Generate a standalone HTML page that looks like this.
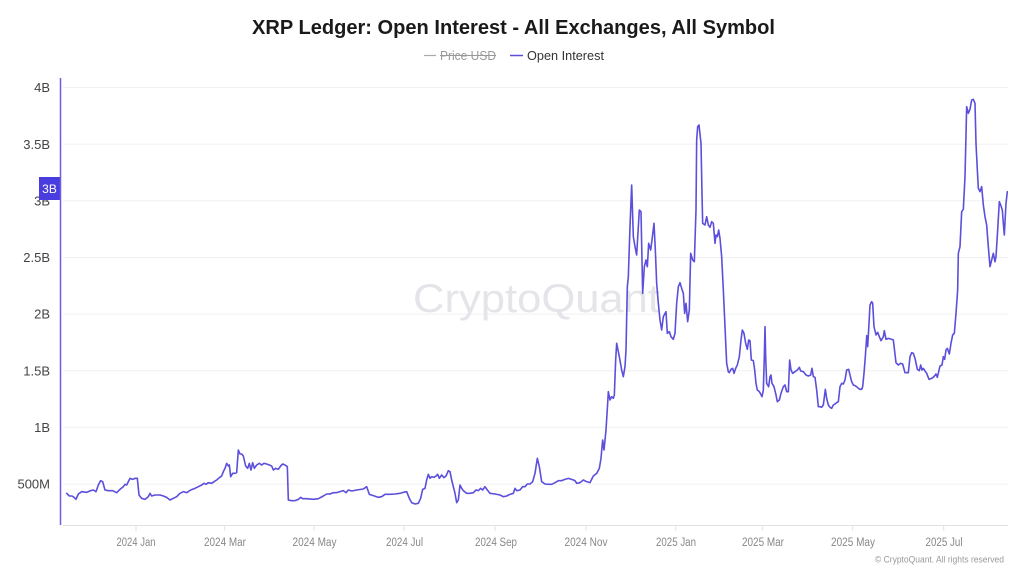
<!DOCTYPE html>
<html><head><meta charset="utf-8"><style>
html,body{margin:0;padding:0;background:#fff;}
svg{display:block;}
text{font-family:"Liberation Sans",sans-serif;}
</style></head><body>
<svg width="1024" height="569" viewBox="0 0 1024 569" xmlns="http://www.w3.org/2000/svg">
<rect width="1024" height="569" fill="#fff"/>
<!-- title -->
<text x="252" y="34" font-size="20" font-weight="bold" fill="#1a1a1a" textLength="523" lengthAdjust="spacingAndGlyphs">XRP Ledger: Open Interest - All Exchanges, All Symbol</text>
<!-- legend -->
<line x1="424" y1="55.5" x2="436" y2="55.5" stroke="#aaa" stroke-width="1.2"/>
<text x="440" y="60" font-size="13" fill="#999" textLength="56" lengthAdjust="spacingAndGlyphs">Price USD</text>
<line x1="440" y1="55.5" x2="496" y2="55.5" stroke="#999" stroke-width="1"/>
<line x1="510" y1="55.5" x2="523" y2="55.5" stroke="#5b4fdb" stroke-width="1.5"/>
<text x="527" y="60" font-size="13" fill="#333" textLength="77" lengthAdjust="spacingAndGlyphs">Open Interest</text>
<!-- gridlines -->
<g stroke="#f0f0f2" stroke-width="1">
<line x1="63" x2="1008" y1="87.5" y2="87.5"/>
<line x1="63" x2="1008" y1="144.2" y2="144.2"/>
<line x1="63" x2="1008" y1="200.8" y2="200.8"/>
<line x1="63" x2="1008" y1="257.5" y2="257.5"/>
<line x1="63" x2="1008" y1="314.1" y2="314.1"/>
<line x1="63" x2="1008" y1="370.8" y2="370.8"/>
<line x1="63" x2="1008" y1="427.4" y2="427.4"/>
<line x1="63" x2="1008" y1="484.1" y2="484.1"/>
</g>
<!-- watermark -->
<text x="413" y="312" font-size="40" fill="#e4e4e9" textLength="247" lengthAdjust="spacingAndGlyphs">CryptoQuant</text>
<!-- y labels -->
<g font-size="13" fill="#444" text-anchor="end">
<text x="50" y="92">4B</text>
<text x="50" y="149">3.5B</text>
<text x="50" y="205.5">3B</text>
<text x="50" y="262">2.5B</text>
<text x="50" y="318.5">2B</text>
<text x="50" y="375.5">1.5B</text>
<text x="50" y="432">1B</text>
<text x="50" y="488.5">500M</text>
</g>
<!-- badge -->
<rect x="39" y="177" width="21" height="23" fill="#4a3de0"/>
<text x="49.5" y="193" font-size="12" fill="#fff" text-anchor="middle">3B</text>
<!-- axes -->
<line x1="60.5" y1="78" x2="60.5" y2="525" stroke="#6b5fe0" stroke-width="1.5"/>
<line x1="63" y1="525.5" x2="1008" y2="525.5" stroke="#e2e2e6" stroke-width="1"/>
<g stroke="#e2e2e6" stroke-width="1">
<line x1="136" x2="136" y1="525.5" y2="531"/>
<line x1="224.7" x2="224.7" y1="525.5" y2="531"/>
<line x1="314" x2="314" y1="525.5" y2="531"/>
<line x1="404" x2="404" y1="525.5" y2="531"/>
<line x1="495" x2="495" y1="525.5" y2="531"/>
<line x1="586" x2="586" y1="525.5" y2="531"/>
<line x1="675.7" x2="675.7" y1="525.5" y2="531"/>
<line x1="762.7" x2="762.7" y1="525.5" y2="531"/>
<line x1="852.7" x2="852.7" y1="525.5" y2="531"/>
<line x1="943.7" x2="943.7" y1="525.5" y2="531"/>
</g>
<g font-size="11.5" fill="#888">
<text x="116.5" y="546" textLength="39" lengthAdjust="spacingAndGlyphs">2024 Jan</text>
<text x="204" y="546" textLength="42" lengthAdjust="spacingAndGlyphs">2024 Mar</text>
<text x="292.5" y="546" textLength="44" lengthAdjust="spacingAndGlyphs">2024 May</text>
<text x="386" y="546" textLength="37" lengthAdjust="spacingAndGlyphs">2024 Jul</text>
<text x="475" y="546" textLength="42" lengthAdjust="spacingAndGlyphs">2024 Sep</text>
<text x="564.5" y="546" textLength="43" lengthAdjust="spacingAndGlyphs">2024 Nov</text>
<text x="656" y="546" textLength="40" lengthAdjust="spacingAndGlyphs">2025 Jan</text>
<text x="742" y="546" textLength="42" lengthAdjust="spacingAndGlyphs">2025 Mar</text>
<text x="831" y="546" textLength="44" lengthAdjust="spacingAndGlyphs">2025 May</text>
<text x="925.5" y="546" textLength="37" lengthAdjust="spacingAndGlyphs">2025 Jul</text>
</g>
<text x="875" y="562.5" font-size="9" fill="#999" textLength="129" lengthAdjust="spacingAndGlyphs">© CryptoQuant. All rights reserved</text>
<!-- series -->
<g fill="none" stroke="#5b4fdb" stroke-width="1.6" stroke-linejoin="round" stroke-linecap="round">
<polyline vector-effect="non-scaling-stroke" transform="translate(60,440) scale(0.33333)" points="20,160 28,168 36,168 42,172 48,178 55,162 65,155 80,157 92,152 100,150 108,155 115,135 122,122 128,125 135,150 145,152 158,152 170,158 180,148 190,140 195,133 200,135 210,115 218,118 225,115 232,115 237,165 245,175 255,178 265,170 270,160 275,168 285,165 300,165 310,168 320,172 330,180 340,175 350,170 360,160 370,155 380,158 392,150 405,145 415,140 425,135 432,130 438,133 445,128 455,130 462,125 470,120 478,113 485,108 490,95 495,85 500,70 505,78 508,75 512,110 518,100 525,100 530,98 535,30 540,42 545,42 550,48 557,78 563,85 568,70 573,90 578,68 583,85 590,75 598,70 605,75 612,70 620,72 628,75 635,78 640,90 647,85 655,88 662,78 668,72 675,75 682,80 685,180 695,182 705,182 715,178 722,172 728,176 740,176 760,178 775,176 790,168 800,162 810,162"/>
<polyline vector-effect="non-scaling-stroke" transform="translate(330,440) scale(0.33333)" points="0,162 10,158 20,158 30,155 40,152 48,158 55,150 65,153 80,150 100,147 110,140 118,163 130,167 145,172 155,170 165,163 180,163 195,162 210,160 220,157 230,155 238,175 245,188 255,192 265,190 272,175 278,148 285,145 290,120 295,103 300,115 305,110 312,112 318,108 323,103 328,115 335,105 342,113 348,108 355,92 360,95 365,120 370,140 375,160 380,188 385,180 390,135 395,145 400,152 410,160 420,160 430,158 438,150 445,152 452,145 458,150 465,140 472,150 480,160 495,162 510,165 520,170 530,168 540,163 550,160 555,145 560,152 570,150 578,140 585,140 592,132 600,132 608,125 615,100 622,55 628,80 635,125 645,132 655,133 665,133 675,128 685,122 695,122 705,118 715,115 725,118 735,122 740,130 750,128 760,120 770,125 780,128 790,108 800,100"/>
<polyline vector-effect="non-scaling-stroke" transform="translate(590,110) scale(0.33333)" points="20,1090 28,1075 33,1045 38,990 42,1020 48,960 53,880 55,845 60,870 65,860 70,865 73,855 77,750 80,700 88,740 95,780 100,800 105,770 108,720 112,530 115,500 120,350 125,225 130,380 135,410 140,435 145,350 148,300 153,305 158,550 163,470 168,450 172,470 176,400 182,420 186,390 192,340 196,420 200,520 205,580 210,630 215,660 220,620 228,605 232,670 238,665 243,680 250,688 255,670 260,580 265,530 270,518 275,535 280,550 284,610 288,580 293,635 298,600 302,430 308,450 313,455 318,300 320,90 323,50 327,45 333,100 336,250 338,340 345,345 350,320 355,345 360,352 365,335 370,340 375,400 378,375 382,380 386,360 390,385 395,440 400,540 405,650 410,760 415,785"/>
<polyline vector-effect="non-scaling-stroke" transform="translate(720,290) scale(0.33333)" points="25,245 28,248 33,238 38,235 42,250 47,235 52,225 58,200 63,150 67,120 72,130 77,160 82,178 86,150 90,152 94,210 100,212 104,240 108,280 112,300 118,305 122,312 126,320 130,300 133,200 135,110 137,200 140,280 146,290 150,260 153,255 156,280 162,290 168,315 172,335 178,330 183,310 190,290 195,285 200,305 205,305 209,210 213,240 218,250 225,245 232,240 238,232 242,243 250,245 258,255 265,258 272,255 276,235 280,260 285,262 290,300 295,350 300,350 305,352 310,345 316,298 320,325 325,345 330,352 335,355 340,345 345,342 350,338 355,335 360,290 365,280 370,282 375,270 380,240 386,238 390,255 395,275 400,285 405,287 410,290 415,295 420,298 425,298 428,290 432,250 436,200 440,140"/>
<polyline vector-effect="non-scaling-stroke" transform="translate(860,90) scale(0.33333)" points="20,737 23,770 27,700 30,645 35,635 38,640 42,710 48,735 53,727 58,740 63,752 70,740 73,722 78,748 85,745 95,748 100,750 108,818 115,825 122,820 128,822 135,848 145,848 150,800 155,788 160,790 165,805 172,838 178,842 182,825 186,840 190,835 195,843 200,850 207,868 215,865 222,860 228,852 232,862 240,828 246,825 250,800 254,808 258,780 262,775 268,792 273,760 278,735 283,730 288,670 293,600 295,490 300,470 305,365 310,358 315,260 320,50 325,70 330,58 335,30 340,28 345,40 348,160 352,240 355,295 360,305 365,290 370,345 375,380 380,405 385,470 390,530 395,510 400,490 405,515 408,500 413,420 418,335 422,345 427,360 430,400 433,435 438,340 442,305"/>
</g>
</svg>
</body></html>
